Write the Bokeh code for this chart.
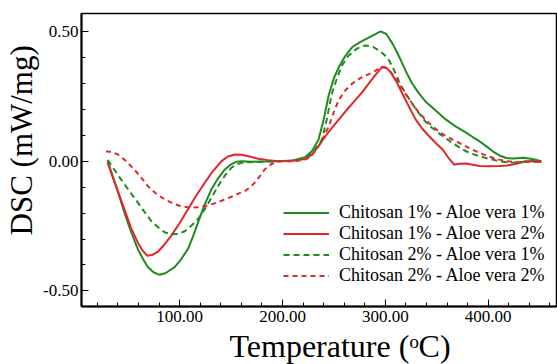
from bokeh.plotting import figure
from bokeh.models import FixedTicker, NumeralTickFormatter, Range1d, Legend, LegendItem, Title
from bokeh.embed import file_html
from bokeh.resources import INLINE

# Chitosan 1% - Aloe vera 1% (green solid)
t_c1a1 = [29.9, 38.0, 46.2, 52.5, 59.2, 64.0, 69.0, 74.5, 80.4, 86.0, 95.1, 101.0, 108.1, 113.0, 117.9,
          124.0, 130.9, 137.5, 144.0, 150.0, 155.3, 160.0, 170.0, 180.0, 196.0, 210.0, 222.0, 229.0, 235.0,
          240.0, 245.0, 250.0, 255.0, 261.0, 268.0, 275.0, 281.0, 288.0, 295.4, 301.0, 307.0, 312.0,
          316.6, 321.0, 326.0, 332.0, 339.0, 349.0, 359.0, 368.0, 378.5, 385.0, 391.5, 398.0, 404.5,
          411.0, 417.6, 425.0, 434.0, 443.0, 451.8]
v_c1a1 = [0.000, -0.095, -0.198, -0.270, -0.338, -0.375, -0.408, -0.428, -0.438, -0.432, -0.408, -0.380,
          -0.338, -0.290, -0.236, -0.170, -0.108, -0.065, -0.032, -0.012, -0.002, 0.000, -0.002, -0.001,
          0.000, 0.003, 0.015, 0.040, 0.083, 0.160, 0.255, 0.320, 0.364, 0.405, 0.440, 0.458, 0.470,
          0.485, 0.500, 0.490, 0.453, 0.415, 0.376, 0.338, 0.300, 0.265, 0.230, 0.195, 0.160, 0.135,
          0.110, 0.093, 0.077, 0.058, 0.038, 0.022, 0.012, 0.010, 0.013, 0.008, 0.000]

# Chitosan 1% - Aloe vera 2% (red solid)
t_c1a2 = [29.9, 38.0, 46.2, 52.5, 59.2, 64.0, 68.3, 73.0, 78.8, 85.0, 91.8, 100.0, 108.1, 116.0, 124.4,
          132.0, 140.7, 147.0, 153.8, 160.0, 168.0, 176.5, 186.0, 196.0, 210.0, 222.0, 228.7, 235.0,
          241.7, 248.0, 254.7, 263.0, 271.0, 278.0, 284.0, 291.0, 297.0, 301.0, 305.0, 311.0, 316.6,
          323.0, 329.6, 336.0, 342.7, 349.0, 355.7, 361.0, 367.0, 372.0, 378.5, 385.0, 391.5, 400.0,
          411.0, 418.0, 424.0, 431.0, 437.0, 445.0, 451.8]
v_c1a2 = [-0.006, -0.095, -0.185, -0.255, -0.313, -0.345, -0.364, -0.362, -0.349, -0.322, -0.287,
          -0.238, -0.185, -0.133, -0.083, -0.040, 0.000, 0.018, 0.026, 0.025, 0.018, 0.009, 0.004,
          0.000, 0.002, 0.008, 0.025, 0.058, 0.096, 0.128, 0.160, 0.200, 0.236, 0.268, 0.300, 0.335,
          0.364, 0.360, 0.344, 0.305, 0.260, 0.210, 0.160, 0.125, 0.096, 0.070, 0.045, 0.015, -0.013,
          -0.010, -0.009, -0.014, -0.019, -0.020, -0.019, -0.017, -0.013, -0.006, 0.000, 0.001, -0.003]

# Chitosan 2% - Aloe vera 1% (green dashed)
t_c2a1 = [29.9, 36.0, 42.9, 51.0, 59.2, 66.0, 72.2, 79.0, 85.3, 92.0, 98.3, 105.0, 111.3, 118.0, 124.4,
          131.0, 137.4, 144.0, 150.4, 157.0, 163.5, 175.0, 190.0, 205.0, 215.0, 222.0, 230.0, 238.4,
          243.0, 248.0, 253.0, 258.0, 264.0, 271.0, 276.0, 281.0, 288.0, 294.0, 299.0, 303.6, 308.0,
          313.0, 319.0, 326.0, 332.0, 339.0, 345.0, 352.0, 358.0, 365.5, 372.0, 378.5, 385.0, 391.5,
          400.0, 411.0, 418.0, 424.0, 432.0, 440.0, 451.8]
v_c2a1 = [0.005, -0.030, -0.070, -0.115, -0.159, -0.197, -0.230, -0.255, -0.274, -0.282, -0.281,
          -0.270, -0.249, -0.222, -0.185, -0.140, -0.096, -0.055, -0.025, -0.010, -0.004, -0.003,
          -0.001, 0.001, 0.004, 0.013, 0.035, 0.083, 0.160, 0.260, 0.320, 0.370, 0.405, 0.430, 0.442,
          0.446, 0.440, 0.427, 0.410, 0.389, 0.355, 0.310, 0.265, 0.223, 0.188, 0.153, 0.130, 0.108,
          0.090, 0.070, 0.053, 0.038, 0.028, 0.019, 0.010, 0.000, -0.004, -0.006, -0.003, 0.000, -0.003]

# Chitosan 2% - Aloe vera 2% (red dashed)
t_c2a2 = [28.3, 34.0, 39.7, 46.0, 52.7, 61.0, 69.0, 77.0, 85.3, 92.0, 98.3, 105.0, 111.3, 119.0, 127.7,
          136.0, 144.0, 150.0, 155.3, 163.5, 168.0, 173.0, 178.0, 182.6, 189.0, 196.0, 210.0, 220.0,
          225.4, 230.0, 235.0, 240.0, 245.0, 250.0, 254.7, 261.0, 268.0, 275.0, 281.0, 288.0, 294.0,
          299.0, 303.6, 308.0, 313.0, 319.0, 326.0, 332.0, 339.0, 345.0, 352.0, 358.0, 365.5, 372.0,
          378.5, 385.0, 391.5, 398.0, 404.5, 411.0, 417.6, 430.0, 440.0, 451.8]
v_c2a2 = [0.038, 0.035, 0.026, 0.007, -0.019, -0.055, -0.096, -0.125, -0.147, -0.160, -0.170, -0.176,
          -0.179, -0.177, -0.170, -0.160, -0.147, -0.138, -0.128, -0.115, -0.102, -0.083, -0.058,
          -0.032, -0.012, 0.000, 0.000, 0.003, 0.013, 0.030, 0.057, 0.093, 0.134, 0.190, 0.236, 0.272,
          0.300, 0.318, 0.330, 0.343, 0.357, 0.362, 0.350, 0.330, 0.300, 0.262, 0.223, 0.190, 0.160,
          0.138, 0.115, 0.099, 0.083, 0.070, 0.057, 0.044, 0.032, 0.022, 0.013, 0.006, 0.000, -0.004,
          -0.002, -0.002]

labels = ["Chitosan 1% - Aloe vera 1%", "Chitosan 1% - Aloe vera 2%",
          "Chitosan 2% - Aloe vera 1%", "Chitosan 2% - Aloe vera 2%"]
x_major = [100, 200, 300, 400]
y_major = [-0.5, 0.0, 0.5]
x_title = "Temperature (ᵒC)"
y_title = "DSC (mW/mg)"

GREEN = "#1f8a1f"
RED = "#e3262b"
FONT = "Liberation Serif"

p = figure(width=557, height=364, output_backend="svg", toolbar_location=None,
           x_range=Range1d(4.5, 466.5), y_range=Range1d(-0.56, 0.569),
           min_border_left=0, min_border_right=1, min_border_top=13, min_border_bottom=0)
p.xgrid.visible = False
p.ygrid.visible = False
p.outline_line_color = "black"
p.outline_line_width = 1.5
p.background_fill_color = "white"
p.border_fill_color = "white"

r1 = p.line(t_c1a1, v_c1a1, line_color=GREEN, line_width=2)
r2 = p.line(t_c1a2, v_c1a2, line_color=RED, line_width=2)
r3 = p.line(t_c2a1, v_c2a1, line_color=GREEN, line_width=2, line_dash="6 4")
r4 = p.line(t_c2a2, v_c2a2, line_color=RED, line_width=2, line_dash="5 4")

xminor = list(range(20, 461, 20))
yminor = [round(-0.5 + 0.1 * i, 2) for i in range(11)]
p.xaxis.ticker = FixedTicker(ticks=x_major, minor_ticks=xminor)
p.yaxis.ticker = FixedTicker(ticks=y_major, minor_ticks=yminor)
p.xaxis.formatter = NumeralTickFormatter(format="0.00")
p.yaxis.formatter = NumeralTickFormatter(format="0.00")

for ax in (p.xaxis[0], p.yaxis[0]):
    ax.axis_line_color = "black"
    ax.axis_line_width = 2
    ax.major_tick_line_color = "black"
    ax.minor_tick_line_color = "black"
    ax.major_tick_in = 7
    ax.major_tick_out = 1
    ax.minor_tick_in = 4
    ax.minor_tick_out = 0
    ax.major_label_text_font = FONT
    ax.major_label_text_font_size = "17px"
    ax.major_label_text_color = "black"

p.xaxis.major_label_standoff = 3
p.yaxis.major_label_standoff = 2

xt = Title(text=x_title, align="left", offset=148, standoff=2,
           text_font=FONT, text_font_size="32px", text_font_style="normal",
           text_color="black")
yt = Title(text=y_title, align="left", offset=71, standoff=3,
           text_font=FONT, text_font_size="31px", text_font_style="normal",
           text_color="black")
p.add_layout(xt, "below")
p.add_layout(yt, "left")

legend = Legend(items=[LegendItem(label=labels[0], renderers=[r1]),
                       LegendItem(label=labels[1], renderers=[r2]),
                       LegendItem(label=labels[2], renderers=[r3]),
                       LegendItem(label=labels[3], renderers=[r4])],
                location=(202, 20))
legend.background_fill_alpha = 0
legend.border_line_alpha = 0
legend.padding = 0
legend.margin = 0
legend.spacing = 0
legend.glyph_width = 46
legend.glyph_height = 19
legend.label_height = 19
legend.label_standoff = 10
legend.label_text_font = FONT
legend.label_text_font_size = "18px"
legend.label_text_color = "black"
p.add_layout(legend, "center")

open("out.html", "w").write(file_html(p, INLINE))
